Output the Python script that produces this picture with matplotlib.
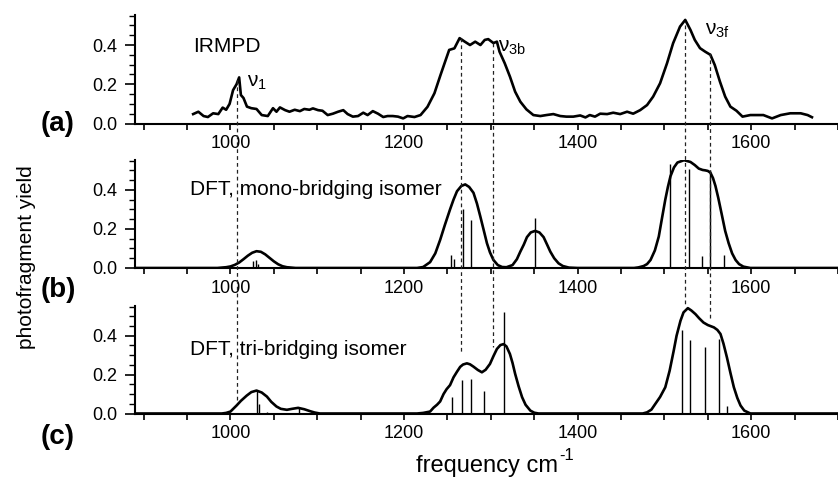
import matplotlib
matplotlib.use("Agg")
import matplotlib.pyplot as plt
from matplotlib.lines import Line2D
from matplotlib.transforms import blended_transform_factory
from matplotlib.ticker import FixedLocator, MultipleLocator, FuncFormatter

plt.rcParams['font.family'] = ['Liberation Sans', 'DejaVu Sans']
plt.rcParams['mathtext.fontset'] = 'custom'
plt.rcParams['mathtext.rm'] = 'Liberation Sans'

# ---------------- data ----------------
irmpd_freq = [957, 963, 969, 974, 980, 986, 991, 995, 999, 1003, 1007, 1010, 1012, 1015,
              1019, 1024, 1030, 1036, 1043, 1049, 1053, 1057, 1063, 1068, 1074, 1080,
              1085, 1091, 1095, 1101, 1106, 1112, 1118, 1124, 1130, 1135, 1141, 1147,
              1153, 1158, 1164, 1170, 1176, 1181, 1187, 1193, 1199, 1204, 1212, 1219,
              1227, 1235, 1242, 1248, 1252, 1258, 1264, 1270, 1276, 1282, 1288, 1293,
              1297, 1303, 1307, 1310, 1316, 1322, 1328, 1334, 1341, 1349, 1357, 1364,
              1372, 1380, 1387, 1395, 1403, 1409, 1414, 1420, 1426, 1434, 1441, 1449,
              1457, 1464, 1472, 1480, 1487, 1495, 1503, 1510, 1518, 1524, 1530, 1535,
              1541, 1547, 1553, 1558, 1564, 1570, 1576, 1583, 1590, 1599, 1614, 1624,
              1634, 1645, 1657, 1665, 1670]
irmpd_yield = [0.048, 0.060, 0.038, 0.033, 0.052, 0.048, 0.081, 0.070, 0.100, 0.170, 0.200,
               0.235, 0.145, 0.130, 0.086, 0.078, 0.074, 0.043, 0.038, 0.078, 0.060, 0.082,
               0.068, 0.060, 0.070, 0.063, 0.074, 0.070, 0.077, 0.068, 0.065, 0.043, 0.050,
               0.060, 0.068, 0.048, 0.035, 0.038, 0.055, 0.043, 0.063, 0.050, 0.033, 0.038,
               0.038, 0.035, 0.026, 0.038, 0.033, 0.043, 0.085, 0.154, 0.247, 0.324, 0.375,
               0.383, 0.435, 0.417, 0.400, 0.417, 0.400, 0.426, 0.430, 0.410, 0.417, 0.366,
               0.307, 0.239, 0.162, 0.111, 0.072, 0.043, 0.038, 0.043, 0.048, 0.038, 0.035,
               0.035, 0.041, 0.031, 0.043, 0.035, 0.050, 0.048, 0.055, 0.048, 0.060, 0.050,
               0.068, 0.094, 0.137, 0.205, 0.307, 0.409, 0.494, 0.528, 0.477, 0.426, 0.384,
               0.366, 0.350, 0.298, 0.213, 0.137, 0.086, 0.065, 0.035, 0.043, 0.043, 0.026,
               0.043, 0.052, 0.052, 0.043, 0.032]

mono_freq = [890, 985, 995, 1000, 1005, 1010, 1015, 1020, 1025, 1030, 1035, 1040, 1045,
             1050, 1055, 1060, 1065, 1075, 1215, 1222, 1230, 1236, 1241.6, 1247, 1253,
             1257, 1261, 1266, 1270.5, 1275, 1280, 1284, 1287.8, 1292, 1295.5, 1299, 1303,
             1308, 1313, 1318, 1325, 1330, 1334, 1338, 1341.6, 1346, 1351, 1356, 1360.8,
             1365, 1368.5, 1373, 1378, 1383, 1390, 1400, 1465, 1470, 1476, 1480, 1484,
             1489, 1493.5, 1497, 1501, 1504, 1507, 1511, 1515, 1522.6, 1530, 1535, 1539.6,
             1544, 1547, 1550, 1553, 1556, 1558.8, 1562, 1566.5, 1570, 1574, 1578, 1582,
             1586, 1591, 1599, 1700]
mono_env = [0, 0, 0.004, 0.008, 0.016, 0.028, 0.045, 0.063, 0.078, 0.086, 0.083, 0.070,
            0.052, 0.034, 0.019, 0.009, 0.004, 0, 0, 0.005, 0.030, 0.075, 0.144, 0.220,
            0.300, 0.350, 0.393, 0.420, 0.428, 0.415, 0.385, 0.330, 0.265, 0.190, 0.127,
            0.080, 0.041, 0.015, 0.005, 0.004, 0.015, 0.045, 0.084, 0.120, 0.158, 0.182,
            0.190, 0.182, 0.158, 0.118, 0.084, 0.050, 0.024, 0.010, 0.002, 0, 0, 0.003,
            0.010, 0.020, 0.041, 0.090, 0.161, 0.250, 0.350, 0.415, 0.470, 0.515, 0.540,
            0.552, 0.543, 0.527, 0.509, 0.502, 0.500, 0.497, 0.488, 0.460, 0.420, 0.360,
            0.265, 0.190, 0.127, 0.075, 0.041, 0.020, 0.007, 0, 0]
mono_stick_freq = [1026, 1029, 1032, 1254, 1257, 1268, 1277, 1351, 1507, 1528, 1543, 1553, 1569]
mono_stick_int = [0.035, 0.040, 0.020, 0.067, 0.045, 0.300, 0.247, 0.256, 0.531, 0.509,
                  0.062, 0.500, 0.065]

tri_freq = [890, 990, 995, 1000, 1007, 1012, 1018.7, 1024, 1030, 1036, 1042, 1047, 1053,
            1058, 1065, 1071, 1078, 1085, 1091.7, 1097, 1103, 1215, 1222, 1230, 1234,
            1238, 1241.6, 1245.5, 1249, 1253, 1257, 1261, 1264.7, 1268, 1272.4, 1276,
            1280, 1285, 1289.7, 1294, 1299, 1303, 1307, 1311, 1314.7, 1318, 1322, 1325,
            1328, 1332, 1336, 1340, 1345.5, 1350, 1355, 1475, 1480, 1485, 1489.6, 1495,
            1501, 1506, 1510.7, 1514, 1518.5, 1522, 1527, 1531, 1535.8, 1540, 1545, 1550,
            1557, 1561, 1564.6, 1568, 1572, 1576, 1580, 1584, 1587.7, 1592, 1599, 1700]
tri_env = [0, 0, 0.003, 0.010, 0.041, 0.065, 0.092, 0.110, 0.118, 0.108, 0.087, 0.060,
           0.036, 0.024, 0.019, 0.024, 0.029, 0.022, 0.012, 0.005, 0, 0, 0.003, 0.010,
           0.030, 0.045, 0.062, 0.100, 0.125, 0.146, 0.186, 0.215, 0.240, 0.252, 0.258,
           0.253, 0.241, 0.224, 0.212, 0.225, 0.255, 0.295, 0.332, 0.352, 0.357, 0.345,
           0.306, 0.260, 0.204, 0.140, 0.084, 0.045, 0.015, 0.004, 0, 0, 0.006, 0.020,
           0.050, 0.085, 0.135, 0.220, 0.323, 0.400, 0.477, 0.520, 0.542, 0.530, 0.511,
           0.490, 0.468, 0.455, 0.443, 0.430, 0.409, 0.360, 0.289, 0.210, 0.135, 0.080,
           0.041, 0.015, 0, 0]
tri_stick_freq = [1031, 1033, 1042, 1079, 1255, 1267, 1277, 1292, 1315, 1520, 1529, 1547,
                  1563, 1572]
tri_stick_int = [0.115, 0.050, 0.010, 0.030, 0.087, 0.170, 0.178, 0.118, 0.520, 0.430,
                 0.380, 0.340, 0.385, 0.040]

dash_freq = [1008, 1266, 1303, 1524, 1552]
x_tick_labels = [1000, 1200, 1400, 1600]
y_tick_labels = [0.0, 0.2, 0.4]

# ---------------- figure ----------------
W, H = 838, 480
fig = plt.figure(figsize=(W / 100, H / 100), dpi=100)

left = 135 / W
width = 1 - left
panels = [(15, 123.5), (160, 268), (306, 413.5)]  # top, bottom in pixels
axes = []
for top, bot in panels:
    ax = fig.add_axes([left, 1 - bot / H, width, (bot - top) / H])
    axes.append(ax)

for ax in axes:
    ax.set_xlim(890, 1700)
    ax.set_ylim(0, 0.553)
    for s in ['top', 'right']:
        ax.spines[s].set_visible(False)
    for s in ['left', 'bottom']:
        ax.spines[s].set_linewidth(1.5)
    ax.xaxis.set_major_locator(FixedLocator(x_tick_labels))
    ax.xaxis.set_minor_locator(MultipleLocator(50))
    ax.yaxis.set_major_locator(FixedLocator(y_tick_labels))
    ax.yaxis.set_minor_locator(MultipleLocator(0.05))
    ax.yaxis.set_major_formatter(FuncFormatter(lambda v, p: f"{v:.1f}"))
    ax.tick_params(axis='x', which='both', direction='out', length=4.5, width=1.2,
                   labelsize=13, pad=4)
    ax.tick_params(axis='y', which='major', direction='out', length=7, width=1.2,
                   labelsize=13, pad=6)
    ax.tick_params(axis='y', which='minor', direction='out', length=4, width=1.0)

ax_a, ax_b, ax_c = axes

ax_a.plot(irmpd_freq, irmpd_yield, color='black', lw=1.9, solid_joinstyle='round')
ax_b.plot(mono_freq, mono_env, color='black', lw=1.9, solid_joinstyle='round')
ax_b.vlines(mono_stick_freq, 0, mono_stick_int, color='black', lw=1.0)
ax_c.plot(tri_freq, tri_env, color='black', lw=1.9, solid_joinstyle='round')
ax_c.vlines(tri_stick_freq, 0, tri_stick_int, color='black', lw=1.0)

# labels inside panels
ax_a.text(957, 0.363, 'IRMPD', fontsize=15, va='baseline', ha='left')
ax_b.text(953, 0.375, 'DFT, mono-bridging isomer', fontsize=15, va='baseline', ha='left')
ax_c.text(953, 0.300, 'DFT, tri-bridging isomer', fontsize=15, va='baseline', ha='left')
ax_a.text(1018.7, 0.19, r'$\mathregular{ν_1}$', fontsize=15, va='baseline', ha='left')
ax_a.text(1308, 0.368, r'$\mathregular{ν_{3b}}$', fontsize=15, va='baseline', ha='left')
ax_a.text(1547, 0.454, r'$\mathregular{ν_{3f}}$', fontsize=15, va='baseline', ha='left')

# dashed guide lines spanning panels
dash_top_px = [80, 38, 43, 25, 53]
dash_bot_px = [400, 352, 347, 305, 318]
tr = blended_transform_factory(ax_a.transData, fig.transFigure)
for f, t, b in zip(dash_freq, dash_top_px, dash_bot_px):
    fig.add_artist(Line2D([f, f], [1 - t / H, 1 - b / H], transform=tr, color='#222222',
                          lw=0.9, linestyle=(0, (3, 2.5))))

# panel letters
for lab, ypx in zip(['(a)', '(b)', '(c)'], [124, 290, 437]):
    fig.text(41 / W, 1 - ypx / H, lab, fontsize=20, fontweight='bold', va='center', ha='left')

fig.text(27 / W, 1 - 257 / H, 'photofragment yield', fontsize=15, rotation=90,
         va='center', ha='center')
fig.text(558 / W, 1 - 472 / H, 'frequency cm', fontsize=17, va='baseline', ha='right')
fig.text(559 / W, 1 - 460 / H, '-1', fontsize=12, va='baseline', ha='left')

fig.savefig('out.png', dpi=100)
